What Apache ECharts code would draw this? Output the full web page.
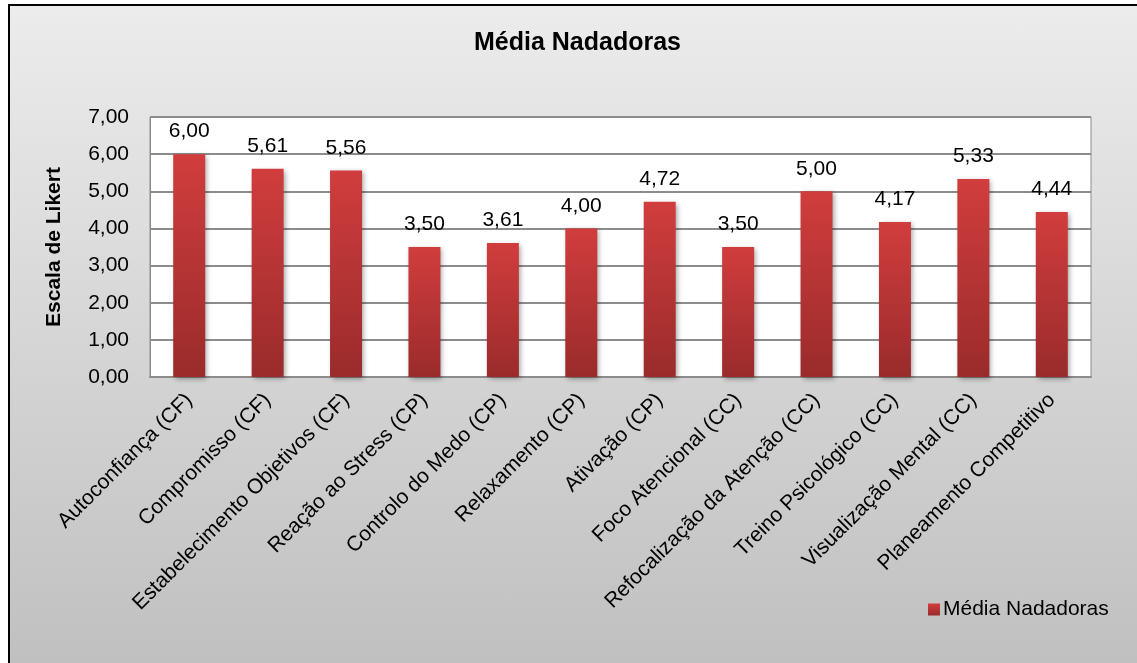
<!DOCTYPE html>
<html>
<head>
<meta charset="utf-8">
<script src="https://cdn.jsdelivr.net/npm/echarts@6/dist/echarts.min.js"></script>
<style>
html,body{margin:0;padding:0;background:#fff;}
#wrap{position:relative;width:1137px;height:663px;overflow:hidden;}
#frame{position:absolute;left:8px;top:4px;width:1200px;height:700px;border:2px solid #000;background:linear-gradient(to bottom,#ececec 0%,#c0c0c0 94%,#bdbdbd 100%);}
#chart{position:absolute;left:0;top:0;width:1137px;height:663px;}
</style>
</head>
<body>
<div id="wrap"><div id="frame"></div><div id="chart"></div></div>
<script>
const categories = [
  'Autoconfiança (CF)',
  'Compromisso (CF)',
  'Estabelecimento Objetivos (CF)',
  'Reação ao Stress (CP)',
  'Controlo do Medo (CP)',
  'Relaxamento (CP)',
  'Ativação (CP)',
  'Foco Atencional (CC)',
  'Refocalização da Atenção (CC)',
  'Treino Psicológico (CC)',
  'Visualização Mental (CC)',
  'Planeamento Competitivo'
];
const seriesName = 'Média Nadadoras';
const values = [6.00, 5.61, 5.56, 3.50, 3.61, 4.00, 4.72, 3.50, 5.00, 4.17, 5.33, 4.44];
const chartTitle = 'Média Nadadoras';
const yAxisName = 'Escala de Likert';

const fmt = v => Number(v).toFixed(2).replace('.', ',');
const font = 'Liberation Sans, Arial, sans-serif';

const chart = echarts.init(document.getElementById('chart'), null, {renderer: 'canvas'});
chart.setOption({
  backgroundColor: 'transparent',
  animation: false,
  title: {
    text: chartTitle,
    left: 469,
    top: 26,
    textStyle: {fontFamily: font, fontSize: 25, fontWeight: 'bold', color: '#000'}
  },
  legend: {
    data: [seriesName],
    left: 923,
    top: 594,
    itemWidth: 12,
    itemHeight: 12,
    itemGap: 4,
    icon: 'rect',
    textStyle: {fontFamily: font, fontSize: 21, color: '#000', padding: [0, 0, 0, -2]}
  },
  grid: {
    left: 150,
    right: 46,
    top: 117,
    bottom: 286,
    show: true,
    backgroundColor: '#ffffff',
    borderColor: '#8c8c8c',
    borderWidth: 1
  },
  xAxis: {
    type: 'category',
    data: categories,
    axisLine: {lineStyle: {color: '#8c8c8c', width: 2}},
    axisTick: {show: false},
    axisLabel: {
      interval: 0,
      rotate: 45,
      margin: 20,
      fontFamily: font,
      fontSize: 21,
      color: '#000'
    }
  },
  yAxis: {
    type: 'value',
    min: 0,
    max: 7,
    interval: 1,
    name: yAxisName,
    nameLocation: 'middle',
    nameGap: 85,
    nameTextStyle: {fontFamily: font, fontSize: 21, fontWeight: 'bold', color: '#000'},
    axisLine: {show: true, lineStyle: {color: '#8c8c8c', width: 1}},
    axisTick: {show: false},
    splitLine: {lineStyle: {color: '#8c8c8c', width: 2}},
    axisLabel: {
      margin: 21,
      fontFamily: font,
      fontSize: 21,
      color: '#000',
      formatter: v => fmt(v)
    }
  },
  series: [{
    name: seriesName,
    type: 'bar',
    data: values,
    barWidth: 32,
    itemStyle: {
      color: new echarts.graphic.LinearGradient(0, 0, 0, 1, [
        {offset: 0, color: '#d13d3d'},
        {offset: 1, color: '#9a2b2b'}
      ]),
      shadowColor: 'rgba(0,0,0,0.35)',
      shadowBlur: 5,
      shadowOffsetX: 2,
      shadowOffsetY: 2
    },
    label: {
      show: true,
      position: 'top',
      distance: 12,
      fontFamily: font,
      fontSize: 21,
      color: '#000',
      formatter: p => fmt(p.value)
    }
  }]
});
</script>
</body>
</html>
